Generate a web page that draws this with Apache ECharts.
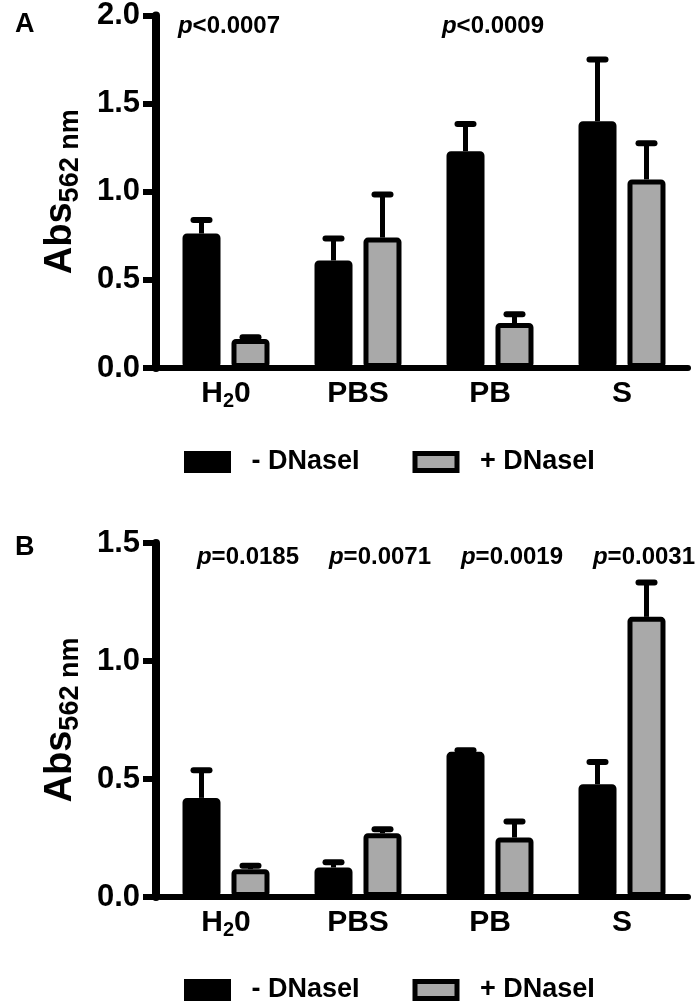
<!DOCTYPE html>
<html><head><meta charset="utf-8">
<script src="https://cdn.jsdelivr.net/npm/echarts@6/dist/echarts.min.js"></script>
<style>html,body{margin:0;padding:0;background:#fff}#c{width:700px;height:1006px}</style>
</head><body><div id="c"></div>
<script>
// ---- data ----
const categories = ['H20', 'PBS', 'PB', 'S'];
const seriesNames = ['- DNaseI', '+ DNaseI'];
// Panel A
const minusA    = [0.763, 0.61, 1.23, 1.40];
const minusErrA = [0.84, 0.735, 1.385, 1.75];
const plusA     = [0.165, 0.74, 0.255, 1.07];
const plusErrA  = [0.175, 0.985, 0.305, 1.275];
const pValuesA  = ['p<0.0007', '', 'p<0.0009', ''];
// Panel B
const minusB    = [0.42, 0.125, 0.615, 0.478];
const minusErrB = [0.537, 0.147, 0.622, 0.572];
const plusB     = [0.118, 0.27, 0.252, 1.187];
const plusErrB  = [0.132, 0.287, 0.32, 1.333];
const pValuesB  = ['p=0.0185', 'p=0.0071', 'p=0.0019', 'p=0.0031'];
// axis ranges
const yMaxA = 2.0, yMaxB = 1.5, yInterval = 0.5;

// ---- style ----
const FONT = '"Liberation Sans", Arial, Helvetica, sans-serif';
const GRAY = '#a9a9a9';
const BAR_W = 38, BAR_GAP_PX = 11, BORDER = 5;
const HALF = (BAR_W + BAR_GAP_PX) / 2;

function catLabel(v) {
  if (v === 'H20') return '{t|H}{s|2}{t|0}';
  return '{t|' + v + '}';
}
function pLabel(t) {
  return '{i|' + t.charAt(0) + '}{t|' + t.slice(1) + '}';
}

function xAxisCfg(gi) {
  return {
    type: 'category', gridIndex: gi, data: categories,
    axisLine: { lineStyle: { color: '#000', width: 6 } },
    axisTick: { show: false },
    axisLabel: {
      formatter: catLabel, margin: 9,
      rich: {
        t: { fontFamily: FONT, fontWeight: 'bold', fontSize: 30, color: '#000', lineHeight: 34 },
        s: { fontFamily: FONT, fontWeight: 'bold', fontSize: 20, color: '#000', lineHeight: 10, verticalAlign: 'bottom' }
      }
    }
  };
}
function yAxisCfg(gi, max) {
  return {
    type: 'value', gridIndex: gi, min: 0, max: max, interval: yInterval, offset: 4,
    name: '{a|Abs}{s|562 nm}', nameLocation: 'middle', nameRotate: 90, nameGap: 72,
    nameTextStyle: {
      rich: {
        a: { fontFamily: FONT, fontWeight: 'bold', fontSize: 38, color: '#000', lineHeight: 46 },
        s: { fontFamily: FONT, fontWeight: 'bold', fontSize: 27, color: '#000', lineHeight: 14, verticalAlign: 'bottom' }
      }
    },
    axisLine: { show: true, lineStyle: { color: '#000', width: 8 } },
    axisTick: { show: true, length: 13, lineStyle: { color: '#000', width: 6 } },
    axisLabel: {
      formatter: v => v.toFixed(1), margin: 16,
      fontFamily: FONT, fontWeight: 'bold', fontSize: 31, color: '#000'
    },
    splitLine: { show: false }
  };
}
function barSeries(name, data, gi, fill) {
  return {
    type: 'bar', name: name, xAxisIndex: gi, yAxisIndex: gi, data: data,
    barWidth: BAR_W, barGap: (BAR_GAP_PX / BAR_W * 100).toFixed(1) + '%',
    itemStyle: { color: fill, borderColor: '#000', borderWidth: BORDER, borderRadius: 2 },
    z: 3, silent: true
  };
}
function errSeries(vals, errs, gi, offset) {
  return {
    type: 'custom', xAxisIndex: gi, yAxisIndex: gi, z: 4, silent: true,
    data: vals.map((v, i) => [i, v, errs[i]]),
    encode: { x: 0, y: [1, 2] },
    renderItem: function (params, api) {
      const i = api.value(0);
      const p0 = api.coord([i, api.value(1)]);
      const p1 = api.coord([i, api.value(2)]);
      const x = p0[0] + offset;
      return {
        type: 'group', children: [
          { type: 'line', shape: { x1: x, y1: p0[1], x2: x, y2: p1[1] }, style: { stroke: '#000', lineWidth: 5 } },
          { type: 'line', shape: { x1: x - 8, y1: p1[1], x2: x + 8, y2: p1[1] }, style: { stroke: '#000', lineWidth: 6, lineCap: 'round' } }
        ]
      };
    }
  };
}
function pSeries(labels, gi, yPos, dx) {
  return {
    type: 'scatter', xAxisIndex: gi, yAxisIndex: gi, symbol: 'rect', symbolSize: 1,
    itemStyle: { color: 'rgba(0,0,0,0)', opacity: 1 }, silent: true, z: 6,
    data: labels.map((t, i) => t ? { value: [i, yPos], label: { formatter: pLabel(t) } } : null).filter(Boolean),
    label: {
      show: true, position: 'inside', offset: [dx, 0], color: '#000', textBorderWidth: 0, opacity: 1,
      rich: {
        i: { fontFamily: FONT, fontWeight: 'bold', fontStyle: 'italic', fontSize: 24, color: '#000' },
        t: { fontFamily: FONT, fontWeight: 'bold', fontSize: 24, color: '#000' }
      }
    }
  };
}
function legendCfg(top) {
  return {
    top: top, left: 184, padding: 0, icon: 'rect', itemWidth: 42, itemHeight: 17, itemGap: 41,
    selectedMode: false, data: seriesNames,
    itemStyle: { borderColor: '#000', borderWidth: BORDER },
    textStyle: { fontFamily: FONT, fontWeight: 'bold', fontSize: 27, color: '#000', padding: [0, 0, 0, 18], width: 120, lineHeight: 30 }
  };
}

const chart = echarts.init(document.getElementById('c'), null, { renderer: 'canvas' });
chart.setOption({
  animation: false,
  backgroundColor: '#fff',
  title: [
    { text: 'A', left: 10, top: 7, textStyle: { fontFamily: FONT, fontWeight: 'bold', fontSize: 27, color: '#000', lineHeight: 26 } },
    { text: 'B', left: 10, top: 530, textStyle: { fontFamily: FONT, fontWeight: 'bold', fontSize: 27, color: '#000', lineHeight: 26 } }
  ],
  grid: [
    { left: 160, right: 12, top: 15, height: 353 },
    { left: 160, right: 12, top: 543, height: 354 }
  ],
  legend: [legendCfg(447), legendCfg(975)],
  xAxis: [xAxisCfg(0), xAxisCfg(1)],
  yAxis: [yAxisCfg(0, yMaxA), yAxisCfg(1, yMaxB)],
  series: [
    barSeries(seriesNames[0], minusA, 0, '#000'),
    barSeries(seriesNames[1], plusA, 0, GRAY),
    errSeries(minusA, minusErrA, 0, -HALF),
    errSeries(plusA, plusErrA, 0, HALF),
    pSeries(pValuesA, 0, 1.938, 3),
    barSeries(seriesNames[0], minusB, 1, '#000'),
    barSeries(seriesNames[1], plusB, 1, GRAY),
    errSeries(minusB, minusErrB, 1, -HALF),
    errSeries(plusB, plusErrB, 1, HALF),
    pSeries(pValuesB, 1, 1.44, 22)
  ]
});
</script>
</body></html>
